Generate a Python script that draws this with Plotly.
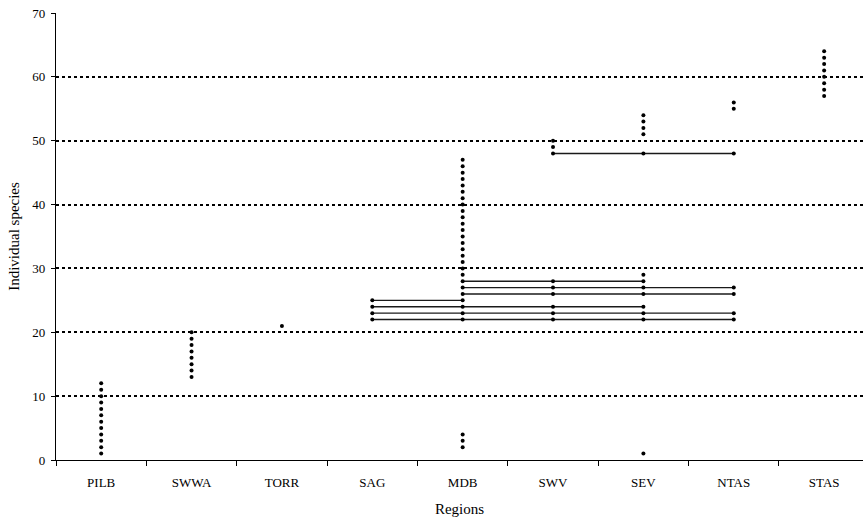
import plotly.graph_objects as go

regions = ["PILB", "SWWA", "TORR", "SAG", "MDB", "SWV", "SEV", "NTAS", "STAS"]

# species numbers present in each region
pilb = [1, 2, 3, 4, 5, 6, 7, 8, 9, 10, 11, 12]
swwa = [13, 14, 15, 16, 17, 18, 19, 20]
torr = [21]
sag = [22, 23, 24, 25]
mdb = [2, 3, 4, 22, 23, 24, 25, 26, 27, 28, 29, 30, 31, 32, 33, 34, 35, 36, 37,
       38, 39, 40, 41, 42, 43, 44, 45, 46, 47]
swv = [22, 23, 24, 26, 27, 28, 48, 49, 50]
sev = [1, 22, 23, 24, 26, 27, 28, 29, 48, 51, 52, 53, 54]
ntas = [22, 23, 26, 27, 48, 55, 56]
stas = [57, 58, 59, 60, 61, 62, 63, 64]

region_species = [pilb, swwa, torr, sag, mdb, swv, sev, ntas, stas]

# species shared across regions (connected by lines)
shared_species = [22, 23, 24, 25, 26, 27, 28, 48]
shared_regions = [
    ["SAG", "MDB", "SWV", "SEV", "NTAS"],
    ["SAG", "MDB", "SWV", "SEV", "NTAS"],
    ["SAG", "MDB", "SWV", "SEV"],
    ["SAG", "MDB"],
    ["MDB", "SWV", "SEV", "NTAS"],
    ["MDB", "SWV", "SEV", "NTAS"],
    ["MDB", "SWV", "SEV"],
    ["SWV", "SEV", "NTAS"],
]

y_ticks = [0, 10, 20, 30, 40, 50, 60, 70]

fig = go.Figure()

for sp, regs in zip(shared_species, shared_regions):
    xs = [regions.index(r) for r in regs]
    fig.add_trace(go.Scatter(
        x=xs, y=[sp] * len(xs), mode="lines",
        line=dict(color="#1a1a1a", width=1.4),
        hoverinfo="skip", showlegend=False))

for i, vals in enumerate(region_species):
    fig.add_trace(go.Scatter(
        x=[i] * len(vals), y=vals, mode="markers",
        marker=dict(color="black", size=4),
        showlegend=False, name=regions[i]))

font = dict(family="Liberation Serif, Times New Roman, serif", size=13, color="black")

fig.update_layout(
    width=863, height=518,
    margin=dict(l=56, r=0, t=13, b=58),
    paper_bgcolor="white", plot_bgcolor="white",
    font=font,
    showlegend=False,
)

fig.update_xaxes(
    range=[-0.5, 8.43],
    tickmode="array",
    tickvals=list(range(len(regions))),
    ticktext=regions,
    ticks="",
    showgrid=False,
    zeroline=False,
    showline=True, linecolor="black", linewidth=1.4,
    tickfont=dict(size=13),
    ticklabelstandoff=10,
    title=dict(text="Regions", font=dict(size=15), standoff=14),
    minor=dict(tickvals=[i - 0.5 for i in range(len(regions))], ticks="outside",
               ticklen=5, tickcolor="black", tickwidth=1, showgrid=False),
)

fig.update_yaxes(
    range=[0, 70],
    tickmode="array",
    tickvals=y_ticks,
    ticks="outside", ticklen=4, tickcolor="black", tickwidth=1,
    showgrid=True, gridcolor="black", gridwidth=1.7, griddash="3px,3px",
    zeroline=False,
    showline=True, linecolor="black", linewidth=1.4,
    tickfont=dict(size=13),
    ticklabelstandoff=3,
    title=dict(text="Individual species", font=dict(size=15), standoff=8),
)

fig.write_html("out.html")
